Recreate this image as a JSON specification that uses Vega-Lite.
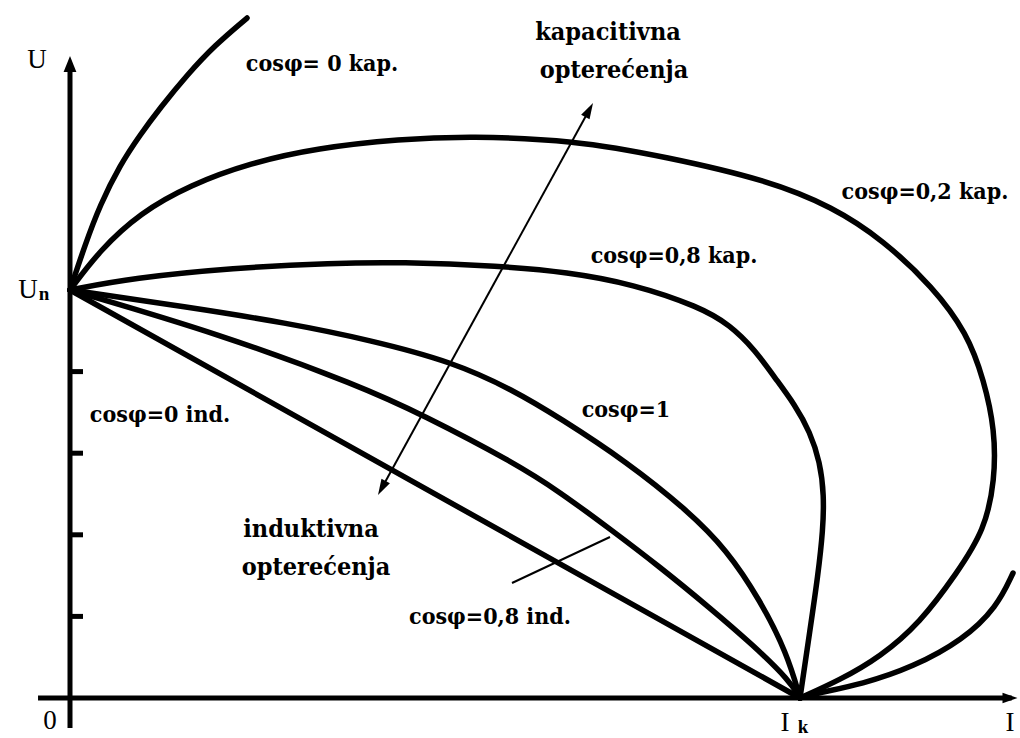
{
 "$schema": "https://vega.github.io/schema/vega-lite/v6.json",
 "width": 1020, "height": 738, "autosize": {"type": "none"}, "padding": 0,
 "background": "white",
 "config": {"view": {"stroke": null}},
 "datasets": {
  "curves": [
   {"curve":"kap0","seq":0,"I":0,"U":5},
   {"curve":"kap0","seq":1,"I":0.205,"U":5.551},
   {"curve":"kap0","seq":2,"I":0.411,"U":6.042},
   {"curve":"kap0","seq":3,"I":0.685,"U":6.532},
   {"curve":"kap0","seq":4,"I":0.959,"U":6.900},
   {"curve":"kap0","seq":5,"I":1.233,"U":7.230},
   {"curve":"kap0","seq":6,"I":1.603,"U":7.635},
   {"curve":"kap0","seq":7,"I":1.986,"U":8.002},
   {"curve":"kap0","seq":8,"I":2.425,"U":8.333},
   {"curve":"kap02","seq":0,"I":0,"U":5},
   {"curve":"kap02","seq":1,"I":0.411,"U":5.490},
   {"curve":"kap02","seq":2,"I":0.959,"U":5.944},
   {"curve":"kap02","seq":3,"I":1.644,"U":6.287},
   {"curve":"kap02","seq":4,"I":2.466,"U":6.556},
   {"curve":"kap02","seq":5,"I":3.384,"U":6.740},
   {"curve":"kap02","seq":6,"I":4.521,"U":6.850},
   {"curve":"kap02","seq":7,"I":5.479,"U":6.885},
   {"curve":"kap02","seq":8,"I":6.890,"U":6.838},
   {"curve":"kap02","seq":9,"I":8.178,"U":6.630},
   {"curve":"kap02","seq":10,"I":9.548,"U":6.348},
   {"curve":"kap02","seq":11,"I":10.452,"U":6.017},
   {"curve":"kap02","seq":12,"I":11.137,"U":5.613},
   {"curve":"kap02","seq":13,"I":11.822,"U":5.037},
   {"curve":"kap02","seq":14,"I":12.288,"U":4.473},
   {"curve":"kap02","seq":15,"I":12.520,"U":3.897},
   {"curve":"kap02","seq":16,"I":12.670,"U":3.284},
   {"curve":"kap02","seq":17,"I":12.670,"U":2.672},
   {"curve":"kap02","seq":18,"I":12.530,"U":2.059},
   {"curve":"kap02","seq":19,"I":12.151,"U":1.532},
   {"curve":"kap02","seq":20,"I":11.644,"U":0.919},
   {"curve":"kap02","seq":21,"I":11.096,"U":0.502},
   {"curve":"kap02","seq":22,"I":10.548,"U":0.221},
   {"curve":"kap02","seq":23,"I":10,"U":0},
   {"curve":"kap08","seq":0,"I":0,"U":5},
   {"curve":"kap08","seq":1,"I":0.863,"U":5.147},
   {"curve":"kap08","seq":2,"I":2.233,"U":5.270},
   {"curve":"kap08","seq":3,"I":3.603,"U":5.331},
   {"curve":"kap08","seq":4,"I":4.521,"U":5.343},
   {"curve":"kap08","seq":5,"I":5.890,"U":5.294},
   {"curve":"kap08","seq":6,"I":6.808,"U":5.221},
   {"curve":"kap08","seq":7,"I":7.712,"U":5.074},
   {"curve":"kap08","seq":8,"I":8.630,"U":4.792},
   {"curve":"kap08","seq":9,"I":9.041,"U":4.571},
   {"curve":"kap08","seq":10,"I":9.384,"U":4.265},
   {"curve":"kap08","seq":11,"I":9.658,"U":3.922},
   {"curve":"kap08","seq":12,"I":9.932,"U":3.591},
   {"curve":"kap08","seq":13,"I":10.137,"U":3.260},
   {"curve":"kap08","seq":14,"I":10.274,"U":2.892},
   {"curve":"kap08","seq":15,"I":10.329,"U":2.488},
   {"curve":"kap08","seq":16,"I":10.315,"U":2.059},
   {"curve":"kap08","seq":17,"I":10.247,"U":1.507},
   {"curve":"kap08","seq":18,"I":10.137,"U":0.833},
   {"curve":"kap08","seq":19,"I":10,"U":0},
   {"curve":"cos1","seq":0,"I":0,"U":5},
   {"curve":"cos1","seq":1,"I":1.603,"U":4.792},
   {"curve":"cos1","seq":2,"I":2.973,"U":4.596},
   {"curve":"cos1","seq":3,"I":4.110,"U":4.387},
   {"curve":"cos1","seq":4,"I":5.247,"U":4.118},
   {"curve":"cos1","seq":5,"I":6.068,"U":3.775},
   {"curve":"cos1","seq":6,"I":6.712,"U":3.431},
   {"curve":"cos1","seq":7,"I":7.630,"U":2.892},
   {"curve":"cos1","seq":8,"I":8.452,"U":2.304},
   {"curve":"cos1","seq":9,"I":9.0,"U":1.814},
   {"curve":"cos1","seq":10,"I":9.452,"U":1.201},
   {"curve":"cos1","seq":11,"I":9.822,"U":0.551},
   {"curve":"cos1","seq":12,"I":10,"U":0},
   {"curve":"ind08","seq":0,"I":0,"U":5},
   {"curve":"ind08","seq":1,"I":2.055,"U":4.461},
   {"curve":"ind08","seq":2,"I":3.973,"U":3.824},
   {"curve":"ind08","seq":3,"I":4.836,"U":3.468},
   {"curve":"ind08","seq":4,"I":6.068,"U":2.892},
   {"curve":"ind08","seq":5,"I":6.712,"U":2.525},
   {"curve":"ind08","seq":6,"I":7.397,"U":2.071},
   {"curve":"ind08","seq":7,"I":8.082,"U":1.605},
   {"curve":"ind08","seq":8,"I":8.767,"U":1.103},
   {"curve":"ind08","seq":9,"I":9.356,"U":0.650},
   {"curve":"ind08","seq":10,"I":9.863,"U":0.208},
   {"curve":"ind08","seq":11,"I":10,"U":0},
   {"curve":"ind0","seq":0,"I":0,"U":5},
   {"curve":"ind0","seq":1,"I":10,"U":0},
   {"curve":"right","seq":0,"I":10,"U":0},
   {"curve":"right","seq":1,"I":10.178,"U":0.049},
   {"curve":"right","seq":2,"I":10.863,"U":0.172},
   {"curve":"right","seq":3,"I":11.548,"U":0.380},
   {"curve":"right","seq":4,"I":12.233,"U":0.711},
   {"curve":"right","seq":5,"I":12.699,"U":1.115},
   {"curve":"right","seq":6,"I":12.918,"U":1.532}
  ],
  "axes": [
   {"line":"xaxis","seq":0,"I":-0.438,"U":0},
   {"line":"xaxis","seq":1,"I":12.9,"U":0},
   {"line":"yaxis","seq":0,"I":0,"U":-0.368},
   {"line":"yaxis","seq":1,"I":0,"U":7.75},
   {"line":"t1","seq":0,"I":0,"U":1},
   {"line":"t1","seq":1,"I":0.178,"U":1},
   {"line":"t2","seq":0,"I":0,"U":2},
   {"line":"t2","seq":1,"I":0.178,"U":2},
   {"line":"t3","seq":0,"I":0,"U":3},
   {"line":"t3","seq":1,"I":0.178,"U":3},
   {"line":"t4","seq":0,"I":0,"U":4},
   {"line":"t4","seq":1,"I":0.178,"U":4}
  ],
  "thin": [
   {"line":"arrow","seq":0,"I":4.272,"U":2.574},
   {"line":"arrow","seq":1,"I":7.112,"U":7.206},
   {"line":"pointer","seq":0,"I":6.055,"U":1.409},
   {"line":"pointer","seq":1,"I":7.397,"U":1.973}
  ],
  "heads": [
   {"head":"y","I":0,"U":7.77},
   {"head":"x","I":12.877,"U":0},
   {"head":"up","I":7.112,"U":7.206},
   {"head":"down","I":4.272,"U":2.574}
  ],
  "cosLabels": [
   {"label":"cosφ= 0 kap.","I":3.452,"U":7.684},
   {"label":"cosφ=0,2 kap.","I":11.712,"U":6.115},
   {"label":"cosφ=0,8 kap.","I":8.274,"U":5.331},
   {"label":"cosφ=1","I":7.616,"U":3.444},
   {"label":"cosφ=0 ind.","I":1.233,"U":3.382},
   {"label":"cosφ=0,8 ind.","I":5.753,"U":0.907}
  ],
  "bigLabels": [
   {"label":"kapacitivna","I":7.370,"U":8.064},
   {"label":"opterećenja","I":7.452,"U":7.598},
   {"label":"induktivna","I":3.301,"U":1.973},
   {"label":"opterećenja","I":3.370,"U":1.507}
  ],
  "axisLabels": [
   {"label":"U","I":-0.452,"U":7.721},
   {"label":"U","I":-0.575,"U":4.902},
   {"label":"0","I":-0.274,"U":-0.380},
   {"label":"I","I":9.795,"U":-0.405},
   {"label":"I","I":12.877,"U":-0.405}
  ],
  "subLabels": [
   {"label":"n","I":-0.356,"U":4.877},
   {"label":"k","I":10.041,"U":-0.429}
  ]
 },
 "layer": [
  {
   "data": {"name": "axes"},
   "mark": {"type": "line", "color": "black", "strokeWidth": 5},
   "encoding": {
    "x": {"field": "I", "type": "quantitative", "scale": {"domain": [-0.9589, 13.0137], "nice": false, "zero": false}, "axis": null},
    "y": {"field": "U", "type": "quantitative", "scale": {"domain": [-0.4902, 8.5539], "nice": false, "zero": false}, "axis": null},
    "detail": {"field": "line", "type": "nominal"},
    "order": {"field": "seq", "type": "quantitative"}
   }
  },
  {
   "data": {"name": "curves"},
   "mark": {"type": "line", "color": "black", "strokeWidth": 5.5, "interpolate": "basis", "strokeCap": "round", "strokeJoin": "round"},
   "encoding": {
    "x": {"field": "I", "type": "quantitative", "axis": null},
    "y": {"field": "U", "type": "quantitative", "axis": null},
    "detail": {"field": "curve", "type": "nominal"},
    "order": {"field": "seq", "type": "quantitative"}
   }
  },
  {
   "data": {"name": "thin"},
   "mark": {"type": "line", "color": "black", "strokeWidth": 2},
   "encoding": {
    "x": {"field": "I", "type": "quantitative", "axis": null},
    "y": {"field": "U", "type": "quantitative", "axis": null},
    "detail": {"field": "line", "type": "nominal"},
    "order": {"field": "seq", "type": "quantitative"}
   }
  },
  {
   "data": {"name": "heads"},
   "transform": [{"filter": "datum.head === 'y'"}],
   "mark": {"type": "point", "shape": "M0,-1L0.8,1L-0.8,1Z", "size": 256, "filled": true, "color": "black", "opacity": 1, "angle": 0},
   "encoding": {
    "x": {"field": "I", "type": "quantitative", "axis": null},
    "y": {"field": "U", "type": "quantitative", "axis": null}
   }
  },
  {
   "data": {"name": "heads"},
   "transform": [{"filter": "datum.head === 'x'"}],
   "mark": {"type": "point", "shape": "M0,-1L0.7,1L-0.7,1Z", "size": 225, "filled": true, "color": "black", "opacity": 1, "angle": 90},
   "encoding": {
    "x": {"field": "I", "type": "quantitative", "axis": null},
    "y": {"field": "U", "type": "quantitative", "axis": null}
   }
  },
  {
   "data": {"name": "heads"},
   "transform": [{"filter": "datum.head === 'up'"}],
   "mark": {"type": "point", "shape": "M0,-1L0.6,1L-0.6,1Z", "size": 256, "filled": true, "color": "black", "opacity": 1, "angle": 28.7},
   "encoding": {
    "x": {"field": "I", "type": "quantitative", "axis": null},
    "y": {"field": "U", "type": "quantitative", "axis": null}
   }
  },
  {
   "data": {"name": "heads"},
   "transform": [{"filter": "datum.head === 'down'"}],
   "mark": {"type": "point", "shape": "M0,-1L0.6,1L-0.6,1Z", "size": 256, "filled": true, "color": "black", "opacity": 1, "angle": 208.7},
   "encoding": {
    "x": {"field": "I", "type": "quantitative", "axis": null},
    "y": {"field": "U", "type": "quantitative", "axis": null}
   }
  },
  {
   "data": {"name": "cosLabels"},
   "mark": {"type": "text", "font": "DejaVu Serif Condensed", "fontWeight": "bold", "fontSize": 23, "align": "center", "baseline": "alphabetic", "color": "black"},
   "encoding": {
    "x": {"field": "I", "type": "quantitative", "axis": null},
    "y": {"field": "U", "type": "quantitative", "axis": null},
    "text": {"field": "label", "type": "nominal"}
   }
  },
  {
   "data": {"name": "bigLabels"},
   "mark": {"type": "text", "font": "DejaVu Serif Condensed", "fontWeight": "bold", "fontSize": 25, "align": "center", "baseline": "alphabetic", "color": "black"},
   "encoding": {
    "x": {"field": "I", "type": "quantitative", "axis": null},
    "y": {"field": "U", "type": "quantitative", "axis": null},
    "text": {"field": "label", "type": "nominal"}
   }
  },
  {
   "data": {"name": "axisLabels"},
   "mark": {"type": "text", "font": "Liberation Serif", "fontSize": 27, "align": "center", "baseline": "alphabetic", "color": "black"},
   "encoding": {
    "x": {"field": "I", "type": "quantitative", "axis": null},
    "y": {"field": "U", "type": "quantitative", "axis": null},
    "text": {"field": "label", "type": "nominal"}
   }
  },
  {
   "data": {"name": "subLabels"},
   "mark": {"type": "text", "font": "Liberation Serif", "fontWeight": "bold", "fontSize": 19, "align": "center", "baseline": "alphabetic", "color": "black"},
   "encoding": {
    "x": {"field": "I", "type": "quantitative", "axis": null},
    "y": {"field": "U", "type": "quantitative", "axis": null},
    "text": {"field": "label", "type": "nominal"}
   }
  }
 ]
}
